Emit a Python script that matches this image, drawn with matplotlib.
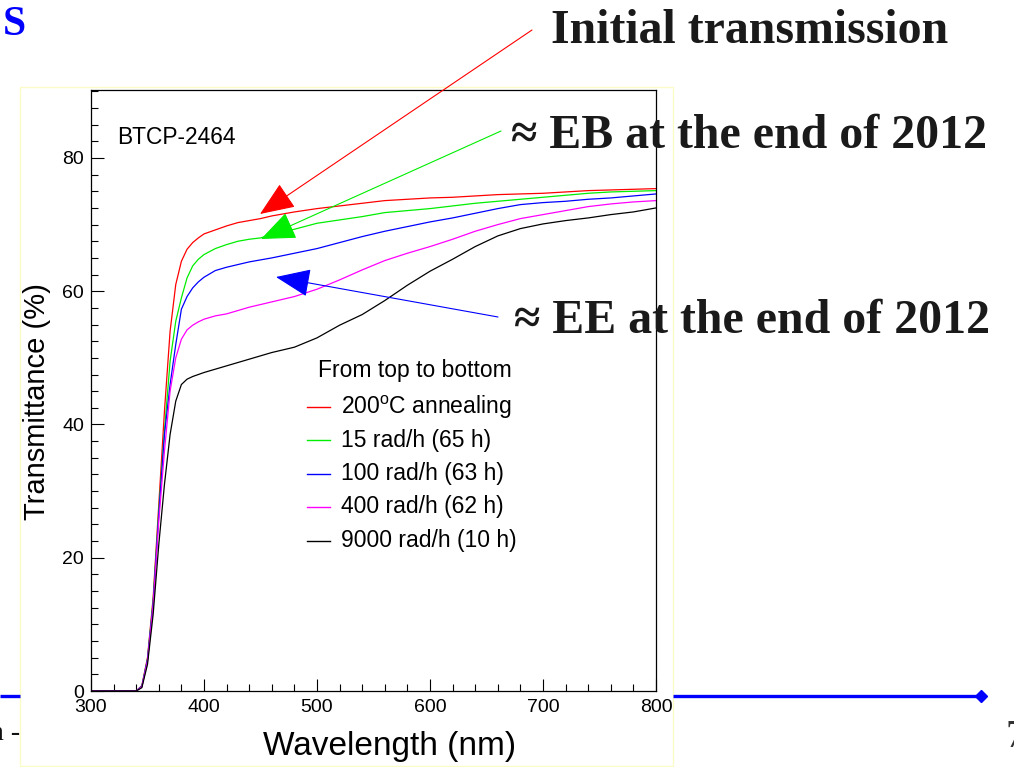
import matplotlib
matplotlib.use("Agg")
import matplotlib.pyplot as plt
from matplotlib.patches import FancyArrowPatch, Rectangle
from matplotlib.ticker import MultipleLocator

# ---- transmittance spectra, crystal BTCP-2464 ----
wavelength = [300, 330, 340, 345, 350, 355, 360, 365, 370, 375, 380, 385, 390, 395,
              400, 410, 420, 430, 440, 450, 460, 480, 500, 520, 540, 560, 580, 600,
              620, 640, 660, 680, 700, 720, 740, 760, 780, 800]

t_annealed = [0, 0, 0, 0.8, 5.0, 14.0, 28.0, 42.0, 54.0, 61.0, 64.5, 66.3, 67.3, 68.0,
              68.6, 69.2, 69.8, 70.3, 70.6, 70.9, 71.3, 71.9, 72.4, 72.8, 73.2, 73.6, 73.8, 74.0,
              74.1, 74.3, 74.5, 74.6, 74.7, 74.9, 75.1, 75.2, 75.3, 75.4]
t_15rad = [0, 0, 0, 0.7, 4.8, 13.5, 27.0, 39.0, 49.5, 55.5, 59.0, 62.0, 63.8, 64.8,
           65.5, 66.4, 67.0, 67.5, 67.8, 68.0, 68.5, 69.3, 70.2, 70.7, 71.2, 71.8, 72.1, 72.4,
           72.8, 73.2, 73.5, 73.8, 74.1, 74.4, 74.7, 74.9, 75.0, 75.1]
t_100rad = [0, 0, 0, 0.7, 4.7, 13.2, 26.5, 38.5, 46.0, 52.0, 57.3, 59.2, 60.5, 61.4,
            62.1, 63.1, 63.6, 64.0, 64.4, 64.7, 65.0, 65.7, 66.4, 67.3, 68.2, 69.0, 69.7, 70.4,
            71.0, 71.7, 72.4, 73.0, 73.3, 73.5, 73.8, 74.0, 74.3, 74.6]
t_400rad = [0, 0, 0, 0.6, 4.5, 12.8, 25.5, 36.0, 45.0, 50.0, 52.8, 54.2, 54.9, 55.4,
            55.8, 56.3, 56.6, 57.1, 57.6, 58.0, 58.4, 59.2, 60.3, 61.7, 63.2, 64.6, 65.7, 66.7,
            67.8, 69.0, 70.0, 70.9, 71.5, 72.1, 72.7, 73.1, 73.4, 73.6]
t_9000rad = [0, 0, 0, 0.5, 4.0, 11.5, 22.0, 31.0, 38.5, 43.5, 46.0, 46.8, 47.2, 47.5,
             47.8, 48.3, 48.8, 49.3, 49.8, 50.3, 50.8, 51.6, 53.0, 54.9, 56.5, 58.6, 60.9, 63.0,
             64.8, 66.7, 68.3, 69.4, 70.1, 70.6, 71.0, 71.5, 71.9, 72.5]

series = [t_annealed, t_15rad, t_100rad, t_400rad, t_9000rad]
labels = ["200$^{\\mathregular{o}}$C annealing", "15 rad/h (65 h)", "100 rad/h (63 h)",
          "400 rad/h (62 h)", "9000 rad/h (10 h)"]
colors = ["#ff0000", "#00ee00", "#0000ff", "#ff00ff", "#000000"]

x_ticks = [300, 400, 500, 600, 700, 800]
y_ticks = [0, 20, 40, 60, 80]

SANS = ["Liberation Sans", "DejaVu Sans"]
SERIF = ["Liberation Serif", "DejaVu Serif"]
plt.rcParams["font.family"] = SANS

W, H = 1014, 767
fig = plt.figure(figsize=(W / 100, H / 100), dpi=100)
fig.patch.set_facecolor("white")


def px_rect(left, top, right, bottom):
    return [left / W, 1 - bottom / H, (right - left) / W, (bottom - top) / H]


# ---- main plot ----
ax = fig.add_axes(px_rect(91, 90, 656, 691))
for ys, c in zip(series, colors):
    ax.plot(wavelength, ys, color=c, lw=0.9)

ax.set_xlim(300, 800)
ax.set_ylim(0, 90.2)
ax.set_xticks(x_ticks)
ax.set_yticks(y_ticks)
ax.xaxis.set_minor_locator(MultipleLocator(20))
ax.yaxis.set_minor_locator(MultipleLocator(2.5))
ax.tick_params(which="both", direction="in", top=False, right=False, labelsize=14, width=0.8)
ax.tick_params(axis="x", which="major", length=9, pad=6)
ax.tick_params(axis="x", which="minor", length=5)
ax.tick_params(axis="y", which="major", length=9.5, pad=5)
ax.tick_params(axis="y", which="minor", length=5)
for sp in ax.spines.values():
    sp.set_linewidth(0.9)

ax.set_xlabel("Wavelength (nm)", fontsize=24)
ax.xaxis.set_label_coords((390 - 91) / 565, (691 - 731) / 601)
ax.set_ylabel("Transmittance (%)", fontsize=21)
ax.yaxis.set_label_coords((51 - 91) / 565, (691 - 402) / 601)

ax.text((117 - 91) / 565, (691 - 144) / 601, "BTCP-2464", transform=ax.transAxes,
        fontsize=16.4, va="baseline", ha="left")

# ---- page overlay in pixel coordinates ----
ov = fig.add_axes([0, 0, 1, 1], zorder=3)
ov.set_xlim(0, W)
ov.set_ylim(H, 0)
ov.axis("off")
ov.patch.set_alpha(0)

# frame of the embedded figure
ov.add_patch(Rectangle((20, 87), 653, 679, fill=False, ec="#fbfbc8", lw=1.0))

# slide rule
ov.plot([0, 20], [696, 696], color="#0000ff", lw=2.4, solid_capstyle="butt")
ov.plot([673, 981], [696, 696], color="#0000ff", lw=2.4, solid_capstyle="butt")
ov.plot([981], [696], marker="D", ms=6, color="#0000ff")

# legend
ov.text(318, 370, "From top to bottom", fontsize=16.5, va="center", ha="left")
legend_rows = [407, 440, 473.5, 507, 541]
for row, lab, c in zip(legend_rows, labels, colors):
    ov.plot([307, 330], [row, row], color=c, lw=1.0)
    ov.text(341, row, lab, fontsize=16.5, va="center", ha="left")

# callouts
big = dict(fontsize=34.5, fontweight="bold", family=SERIF, color="#1a1a1a", va="baseline", ha="left")
ov.text(551, 43, "Initial transmission", **big)
ov.text(511, 148, "\u2248 EB at the end of 2012", **big)
ov.text(514, 333, "\u2248 EE at the end of 2012", **big)

arrows = [((532, 30), (260, 214), "#ff0000"),
          ((501, 131), (261, 239), "#00ee00"),
          ((498, 317), (276, 277), "#0000ff")]
for start, tip, c in arrows:
    ov.add_patch(FancyArrowPatch(start, tip, arrowstyle="-|>,head_length=22,head_width=9",
                                 mutation_scale=1, color=c, lw=0.8,
                                 shrinkA=0, shrinkB=0))

# slide edges
ov.text(3, 35, "S", fontsize=30, fontweight="bold", family=SERIF, color="#0000ff",
        va="baseline", ha="left")
ov.text(20, 740, "n -", fontsize=20, family=SERIF, color="#111111", va="baseline", ha="right")
ov.text(1005, 747, "7", fontsize=28, family=SERIF, color="#333333", va="baseline", ha="left")

fig.savefig("out.png", dpi=100)
